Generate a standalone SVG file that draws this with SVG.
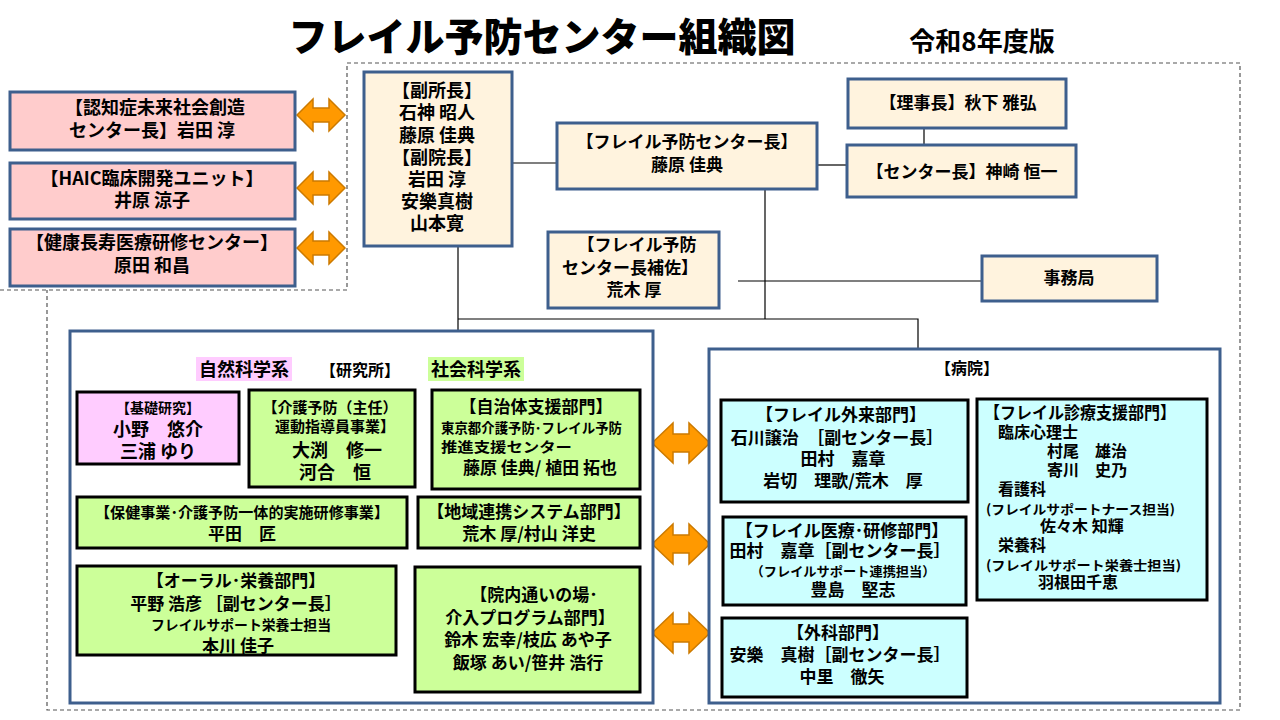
<svg xmlns="http://www.w3.org/2000/svg" width="1280" height="720" viewBox="0 0 1280 720">
<defs>
<style>
.t{font-family:"Noto Sans CJK JP","Noto Sans",sans-serif;font-weight:bold;fill:#000;font-size:17px}
.m{text-anchor:middle}
.s{font-size:13px}
.l{font-size:18px}
.q{font-size:16px}
.bx{stroke:#3E5F8D;stroke-width:3}
.kb{stroke:#000;stroke-width:3}
.cream{fill:#FFF3DE}
.pink{fill:#FFCCCC}
.mag{fill:#FFCCFF}
.grn{fill:#CCFF99}
.cyan{fill:#CCFFFF}
.arr{fill:#FF9900;stroke:#CC7A00;stroke-width:1.5}
.con{stroke:#000;stroke-width:1.2;fill:none}
</style>
<path id="sa" d="M-24,0 L-8,-16 L-8,-7 L8,-7 L8,-16 L24,0 L8,16 L8,7 L-8,7 L-8,16Z"/>
<path id="la" d="M-29,0 L-8,-20 L-8,-9 L8,-9 L8,-20 L29,0 L8,20 L8,9 L-8,9 L-8,20Z"/>
</defs>
<rect width="1280" height="720" fill="#fff"/>

<g id="title">
<text class="t m" x="542" y="51" style="font-size:39px;font-weight:900">フレイル予防センター組織図</text>
<text class="t m" x="982" y="51" style="font-size:26px">令和8年度版</text>
</g>

<g id="frame" fill="none" stroke="#555" stroke-width="1.2" stroke-dasharray="4 3">
<path d="M347,63 H1240 V710 H47 V290"/>
<path d="M0,290 H347 V63"/>
</g>

<g id="connectors">
<path class="con" d="M512,163 H557"/>
<path class="con" d="M817,165 H847"/>
<path class="con" d="M924,128 V145"/>
<path class="con" d="M765,189 V319"/>
<path class="con" d="M738,281 H982"/>
<path class="con" d="M458,246 V331"/>
<path class="con" d="M458,319 H918 V349"/>
</g>

<g id="arrows">
<use href="#sa" class="arr" x="321" y="115"/>
<use href="#sa" class="arr" x="321" y="188"/>
<use href="#sa" class="arr" x="321" y="248"/>
<use href="#la" class="arr" x="681" y="443"/>
<use href="#la" class="arr" x="681" y="544"/>
<use href="#la" class="arr" x="681" y="633"/>
</g>

<g id="ninchi">
<rect class="bx pink" x="10" y="92" width="285" height="58"/>
<text class="t m l" x="155" y="114">【認知症未来社会創造</text>
<text class="t m l" x="152" y="137">センター長】岩田 淳</text>
</g>
<g id="haic">
<rect class="bx pink" x="10" y="163" width="285" height="56"/>
<text class="t m l" x="152" y="185">【HAIC臨床開発ユニット】</text>
<text class="t m l" x="152" y="207">井原 涼子</text>
</g>
<g id="kenshu">
<rect class="bx pink" x="10" y="229" width="285" height="57"/>
<text class="t m l" x="152" y="249">【健康長寿医療研修センター】</text>
<text class="t m l" x="152" y="272">原田 和昌</text>
</g>

<g id="fukushocho">
<rect class="bx cream" x="364" y="72" width="148" height="174"/>
<text class="t m l" x="437" y="97">【副所長】</text>
<text class="t m l" x="437" y="119">石神 昭人</text>
<text class="t m l" x="437" y="142">藤原 佳典</text>
<text class="t m l" x="437" y="164">【副院長】</text>
<text class="t m l" x="437" y="186">岩田 淳</text>
<text class="t m l" x="437" y="208">安樂真樹</text>
<text class="t m l" x="437" y="230">山本寛</text>
</g>

<g id="centercho">
<rect class="bx cream" x="557" y="123" width="260" height="66"/>
<text class="t m" x="687" y="148">【フレイル予防センター長】</text>
<text class="t m" x="687" y="171">藤原 佳典</text>
</g>

<g id="hosa">
<rect class="bx cream" x="548" y="232" width="171" height="76"/>
<text class="t m" x="637" y="251">【フレイル予防</text>
<text class="t m" x="630" y="274">センター長補佐】</text>
<text class="t m" x="634" y="296">荒木 厚</text>
</g>

<g id="rijicho">
<rect class="bx cream" x="848" y="79" width="218" height="49"/>
<text class="t m" x="958" y="109">【理事長】秋下 雅弘</text>
</g>
<g id="centercho2">
<rect class="bx cream" x="847" y="145" width="229" height="52"/>
<text class="t m" x="962" y="178">【センター長】神崎 恒一</text>
</g>
<g id="jimukyoku">
<rect class="bx cream" x="982" y="256" width="175" height="45"/>
<text class="t m" x="1069" y="284">事務局</text>
</g>

<g id="kenkyusho">
<rect class="bx" fill="#fff" x="70" y="331" width="583" height="372"/>
<rect class="mag" x="196" y="357" width="96" height="24"/>
<rect class="grn" x="428" y="357" width="96" height="24"/>
<text class="t m" x="244" y="376" style="font-size:18px">自然科学系</text>
<text class="t m" x="360" y="376" style="font-size:16px">【研究所】</text>
<text class="t m" x="476" y="376" style="font-size:18px">社会科学系</text>
</g>

<g id="kiso">
<rect class="kb mag" x="77" y="392" width="162" height="72"/>
<text class="t m" x="158" y="413" style="font-size:14px">【基礎研究】</text>
<text class="t m l" x="158" y="436">小野　悠介</text>
<text class="t m l" x="158" y="458">三浦 ゆり</text>
</g>
<g id="kaigo">
<rect class="kb grn" x="249" y="390" width="166" height="97"/>
<text class="t m" x="330" y="413" style="font-size:15px">【介護予防（主任）</text>
<text class="t m" x="335" y="432" style="font-size:15px">運動指導員事業】</text>
<text class="t m l" x="337" y="457">大渕　修一</text>
<text class="t m l" x="335" y="479">河合　恒</text>
</g>
<g id="jichitai">
<rect class="kb grn" x="432" y="390" width="208" height="99"/>
<text class="t m" x="536" y="413">【自治体支援部門】</text>
<text class="t" x="441" y="433" style="font-size:14px" textLength="181" lengthAdjust="spacingAndGlyphs">東京都介護予防･フレイル予防</text>
<text class="t" x="441" y="452" style="font-size:14px" textLength="131" lengthAdjust="spacingAndGlyphs">推進支援センター</text>
<text class="t m" x="540" y="474">藤原 佳典/ 植田 拓也</text>
</g>
<g id="hoken">
<rect class="kb grn" x="77" y="497" width="330" height="51"/>
<text class="t m" x="242" y="518" style="font-size:15px" textLength="294" lengthAdjust="spacingAndGlyphs">【保健事業･介護予防一体的実施研修事業】</text>
<text class="t m" x="242" y="540">平田　匠</text>
</g>
<g id="chiiki">
<rect class="kb grn" x="418" y="497" width="222" height="51"/>
<text class="t m" x="529" y="518">【地域連携システム部門】</text>
<text class="t m" x="529" y="540">荒木 厚/村山 洋史</text>
</g>
<g id="oral">
<rect class="kb grn" x="77" y="566" width="319" height="89"/>
<text class="t m" x="236" y="587">【オーラル･栄養部門】</text>
<text class="t m" x="236" y="610">平野 浩彦 ［副センター長］</text>
<text class="t m" x="241" y="630" style="font-size:14px" textLength="180" lengthAdjust="spacingAndGlyphs">フレイルサポート栄養士担当</text>
<text class="t m" x="238" y="652">本川 佳子</text>
</g>
<g id="innai">
<rect class="kb grn" x="415" y="567" width="225" height="125"/>
<text class="t m" x="534" y="601">【院内通いの場･</text>
<text class="t m" x="530" y="624">介入プログラム部門】</text>
<text class="t m" x="528" y="646">鈴木 宏幸/枝広 あや子</text>
<text class="t m" x="528" y="669">飯塚 あい/笹井 浩行</text>
</g>

<g id="byoin">
<rect class="bx" fill="#fff" x="709" y="349" width="511" height="354"/>
<text class="t m" x="967" y="374" style="font-size:16px">【病院】</text>
</g>

<g id="gairai">
<rect class="kb cyan" x="721" y="400" width="247" height="102"/>
<text class="t m" x="841" y="421">【フレイル外来部門】</text>
<text class="t m" x="837" y="444">石川譲治　［副センター長］</text>
<text class="t m" x="843" y="465">田村　嘉章</text>
<text class="t m" x="843" y="487">岩切　理歌/荒木　厚</text>
</g>
<g id="iryo">
<rect class="kb cyan" x="723" y="517" width="243" height="88"/>
<text class="t m" x="842" y="537">【フレイル医療･研修部門】</text>
<text class="t m" x="840" y="557">田村　嘉章［副センター長］</text>
<text class="t m s" x="843" y="576" textLength="185" lengthAdjust="spacingAndGlyphs">（フレイルサポート連携担当）</text>
<text class="t m" x="853" y="596">豊島　堅志</text>
</g>
<g id="geka">
<rect class="kb cyan" x="722" y="618" width="245" height="79"/>
<text class="t m" x="838" y="639">【外科部門】</text>
<text class="t m" x="840" y="661">安樂　真樹［副センター長］</text>
<text class="t m" x="842" y="683">中里　徹矢</text>
</g>
<g id="shinryo">
<rect class="kb cyan" x="977" y="399" width="230" height="201"/>
<text class="t" x="984" y="419" textLength="192" lengthAdjust="spacingAndGlyphs">【フレイル診療支援部門】</text>
<text class="t q" x="998" y="438">臨床心理士</text>
<text class="t q" x="1047" y="457">村尾　雄治</text>
<text class="t q" x="1047" y="476">寄川　史乃</text>
<text class="t q" x="998" y="495">看護科</text>
<text class="t s" x="986" y="514" textLength="189" lengthAdjust="spacingAndGlyphs">(フレイルサポートナース担当)</text>
<text class="t q" x="1040" y="532">佐々木 知輝</text>
<text class="t q" x="998" y="551">栄養科</text>
<text class="t s" x="986" y="570" textLength="195" lengthAdjust="spacingAndGlyphs">(フレイルサポート栄養士担当)</text>
<text class="t q" x="1038" y="588">羽根田千恵</text>
</g>
</svg>
